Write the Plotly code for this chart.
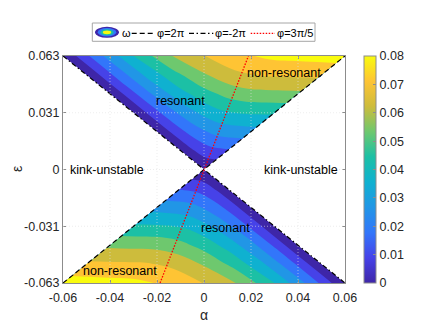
import plotly.graph_objects as go

# omega read off the upper wedge: rows are eps, columns run across the wedge
# from the phi=-2pi edge (s=-1) to the phi=2pi edge (s=+1).
# The lower wedge is the point reflection of the upper one.
S_COLS = [-1.0, -0.75, -0.5, -0.25, 0.0, 0.25, 0.5, 0.75, 1.0]
EPS_ROWS = [0.0, 0.0105, 0.021, 0.0315, 0.042, 0.0525, 0.063]
OMEGA = [
    [0, 0, 0, 0, 0, 0, 0, 0, 0],
    [0, 0.0043, 0.0079, 0.0109, 0.0133, 0.0150, 0.0160, 0.0165, 0.0172],
    [0, 0.0084, 0.0156, 0.0215, 0.0261, 0.0295, 0.0312, 0.0320, 0.0327],
    [0, 0.0125, 0.0230, 0.0317, 0.0385, 0.0434, 0.0455, 0.0462, 0.0465],
    [0, 0.0164, 0.0303, 0.0416, 0.0505, 0.0568, 0.0600, 0.0605, 0.0610],
    [0, 0.0202, 0.0373, 0.0512, 0.0620, 0.0696, 0.0730, 0.0735, 0.0740],
    [0, 0.0240, 0.0450, 0.0620, 0.0717, 0.0795, 0.0830, 0.0840, 0.0850],
]

# boundary lines
PHI_2PI_ALPHA = [-0.06, 0.06]
PHI_2PI_EPS = [-0.063, 0.063]
PHI_M2PI_ALPHA = [-0.06, 0.06]
PHI_M2PI_EPS = [0.063, -0.063]
PHI_3PI5_ALPHA = [-0.0187, 0.0189]
PHI_3PI5_EPS = [-0.063, 0.063]

LABELS = ["resonant", "non-resonant", "kink-unstable", "kink-unstable", "resonant", "non-resonant"]
LABEL_ALPHA = [-0.0100, 0.0341, -0.0414, 0.0413, 0.0093, -0.0357]
LABEL_EPS = [0.0380, 0.0534, 0.0, 0.0, -0.0326, -0.0562]

X_TICKS = [-0.06, -0.04, -0.02, 0, 0.02, 0.04, 0.06]
X_TICK_TEXT = ["-0.06", "-0.04", "-0.02", "0", "0.02", "0.04", "0.06"]
Y_TICKS = [-0.063, -0.0315, 0, 0.0315, 0.063]
Y_TICK_TEXT = ["-0.063", "-0.031", "0", "0.031", "0.063"]
CBAR_TICKS = [0, 0.01, 0.02, 0.03, 0.04, 0.05, 0.06, 0.07, 0.08]
CBAR_TEXT = ["0", "0.01", "0.02", "0.03", "0.04", "0.05", "0.06", "0.07", "0.08"]

PARULA = [
    [0.000, "rgb(62,38,168)"],
    [0.111, "rgb(70,66,232)"],
    [0.222, "rgb(50,118,250)"],
    [0.333, "rgb(33,150,230)"],
    [0.444, "rgb(15,177,208)"],
    [0.556, "rgb(28,192,165)"],
    [0.667, "rgb(110,200,110)"],
    [0.778, "rgb(205,188,60)"],
    [0.889, "rgb(254,196,52)"],
    [1.000, "rgb(249,251,14)"],
]

FONT = "Liberation Sans, Arial, sans-serif"
AXCOL = "#8c8c8c"
TXT = "#262626"

# plot box in pixels (for the hand-made legend)
L, R, T, B = 63, 91, 56, 39
PW, PH = 436 - L - R, 322 - T - B


def px_x(px):
    return (px - L) / PW


def px_y(py):
    return (322 - B - py) / PH


slope = PHI_2PI_EPS[1] / PHI_2PI_ALPHA[1]

a_flat, b_flat, x_flat, y_flat, z_flat = [], [], [], [], []
for i, eps in enumerate(EPS_ROWS):
    for j, s in enumerate(S_COLS):
        a_flat.append(s)
        b_flat.append(eps)
        x_flat.append(s * eps / slope)
        y_flat.append(eps)
        z_flat.append(OMEGA[i][j])

hidden_axis = dict(showgrid=False, showline=False, showticklabels="none",
                   startline=False, endline=False, minorgridcount=0)

fig = go.Figure()
for cid, sign in (("top", 1), ("bot", -1)):
    fig.add_trace(go.Carpet(
        carpet=cid, a=a_flat, b=b_flat,
        x=[sign * v for v in x_flat], y=[sign * v for v in y_flat],
        aaxis=hidden_axis, baxis=hidden_axis,
    ))
    fig.add_trace(go.Contourcarpet(
        carpet=cid, a=a_flat, b=b_flat, z=z_flat,
        autocontour=False,
        contours=dict(start=0.009, end=0.081, size=0.009,
                      coloring="fill", showlines=False),
        colorscale=PARULA, showscale=False,
        line=dict(width=0, smoothing=1),
    ))

# colorbar (continuous, like the reference)
fig.add_trace(go.Scatter(
    x=[0], y=[0], mode="markers", hoverinfo="skip", showlegend=False,
    marker=dict(size=1, opacity=0, color=[0], colorscale=PARULA, cmin=0, cmax=0.08,
                showscale=True,
                colorbar=dict(thickness=12, len=1, lenmode="fraction",
                              x=px_x(364.3), xanchor="left", xpad=0,
                              y=0.5, yanchor="middle", ypad=0,
                              outlinewidth=1, outlinecolor=AXCOL,
                              tickvals=CBAR_TICKS, ticktext=CBAR_TEXT,
                              ticks="inside", ticklen=3, tickcolor=AXCOL,
                              tickfont=dict(family=FONT, size=12.5, color=TXT))),
))

fig.add_trace(go.Scatter(x=PHI_2PI_ALPHA, y=PHI_2PI_EPS, mode="lines", showlegend=False,
                         line=dict(color="black", width=1.2, dash="5px,3px")))
fig.add_trace(go.Scatter(x=PHI_M2PI_ALPHA, y=PHI_M2PI_EPS, mode="lines", showlegend=False,
                         line=dict(color="black", width=1.2, dash="5px,2.5px,1.5px,2.5px")))
fig.add_trace(go.Scatter(x=PHI_3PI5_ALPHA, y=PHI_3PI5_EPS, mode="lines", showlegend=False,
                         line=dict(color="red", width=1.3, dash="1.5px,1.5px")))

for txt, a, e in zip(LABELS, LABEL_ALPHA, LABEL_EPS):
    fig.add_annotation(x=a, y=e, text=txt, showarrow=False,
                       xanchor="center", yanchor="middle",
                       font=dict(family=FONT, size=12.5, color="black"))

# axis titles
fig.add_annotation(xref="paper", yref="paper", x=0.5, y=px_y(315), text="α",
                   xanchor="center", yanchor="middle",
                   showarrow=False, font=dict(family=FONT, size=14, color=TXT))
fig.add_annotation(xref="paper", yref="paper", x=px_x(17), y=px_y(169), text="ε",
                   xanchor="center", yanchor="middle", textangle=-90,
                   showarrow=False, font=dict(family=FONT, size=14, color=TXT))

# dotted grid drawn over the filled contours
grid = dict(color="rgba(225,225,225,0.6)", width=1, dash="1px,2px")
shapes = []
for xv in X_TICKS[1:-1]:
    shapes.append(dict(type="line", xref="x", yref="paper", x0=xv, x1=xv, y0=0, y1=1,
                       line=grid, layer="above"))
for yv in Y_TICKS[1:-1]:
    shapes.append(dict(type="line", xref="paper", yref="y", x0=0, x1=1, y0=yv, y1=yv,
                       line=grid, layer="above"))

# legend box
shapes.append(dict(type="rect", xref="paper", yref="paper",
                   x0=px_x(92.3), x1=px_x(315), y0=px_y(41.3), y1=px_y(23),
                   line=dict(color="#a6a6a6", width=1), fillcolor="white", layer="above"))
cx, cy = 107, 32.3
for rx, ry, col in ((12, 5.5, PARULA[0][1]), (9.3, 4.2, PARULA[2][1]),
                    (6.6, 3.0, PARULA[5][1]), (4.2, 1.9, PARULA[9][1])):
    shapes.append(dict(type="circle", xref="paper", yref="paper",
                       x0=px_x(cx - rx), x1=px_x(cx + rx), y0=px_y(cy + ry), y1=px_y(cy - ry),
                       line=dict(width=0), fillcolor=col, layer="above"))
for x0, x1, col, dash in ((131.7, 155, "black", "5px,3px"),
                          (189, 213.3, "black", "5px,2.5px,1.5px,2.5px"),
                          (250.7, 275, "red", "1.5px,1.5px")):
    shapes.append(dict(type="line", xref="paper", yref="paper",
                       x0=px_x(x0), x1=px_x(x1), y0=px_y(33.3), y1=px_y(33.3),
                       line=dict(color=col, width=1.2, dash=dash), layer="above"))
for txt, x0 in (("ω", 120.5), ("φ=2π", 156.2), ("φ=-2π", 213.8), ("φ=3π/5", 276.2)):
    fig.add_annotation(xref="paper", yref="paper", x=px_x(x0), y=px_y(32.8), text=txt,
                       xanchor="left", yanchor="middle", showarrow=False, borderpad=0,
                       font=dict(family=FONT, size=11, color="black"))

fig.update_layout(
    width=436, height=322, autosize=False,
    margin=dict(l=L, r=R, t=T, b=B, autoexpand=False),
    paper_bgcolor="white", plot_bgcolor="white",
    showlegend=False,
    font=dict(family=FONT, size=12.5, color=TXT),
    shapes=shapes,
    xaxis=dict(range=[-0.06, 0.06], tickvals=X_TICKS, ticktext=X_TICK_TEXT,
               ticks="inside", ticklen=3, tickcolor=AXCOL, showline=True,
               linecolor=AXCOL, linewidth=1, mirror="ticks", showgrid=False,
               zeroline=False, ticklabelstandoff=3, automargin=False),
    yaxis=dict(range=[-0.063, 0.063], tickvals=Y_TICKS, ticktext=Y_TICK_TEXT,
               ticks="inside", ticklen=3, tickcolor=AXCOL, showline=True,
               linecolor=AXCOL, linewidth=1, mirror="ticks", showgrid=False,
               zeroline=False, automargin=False),
)

# the page body has a default 8px margin; drop it so the figure sits at the origin
fig.write_html("out.html", config={"displayModeBar": False},
               post_script="document.body.style.margin='0';")
